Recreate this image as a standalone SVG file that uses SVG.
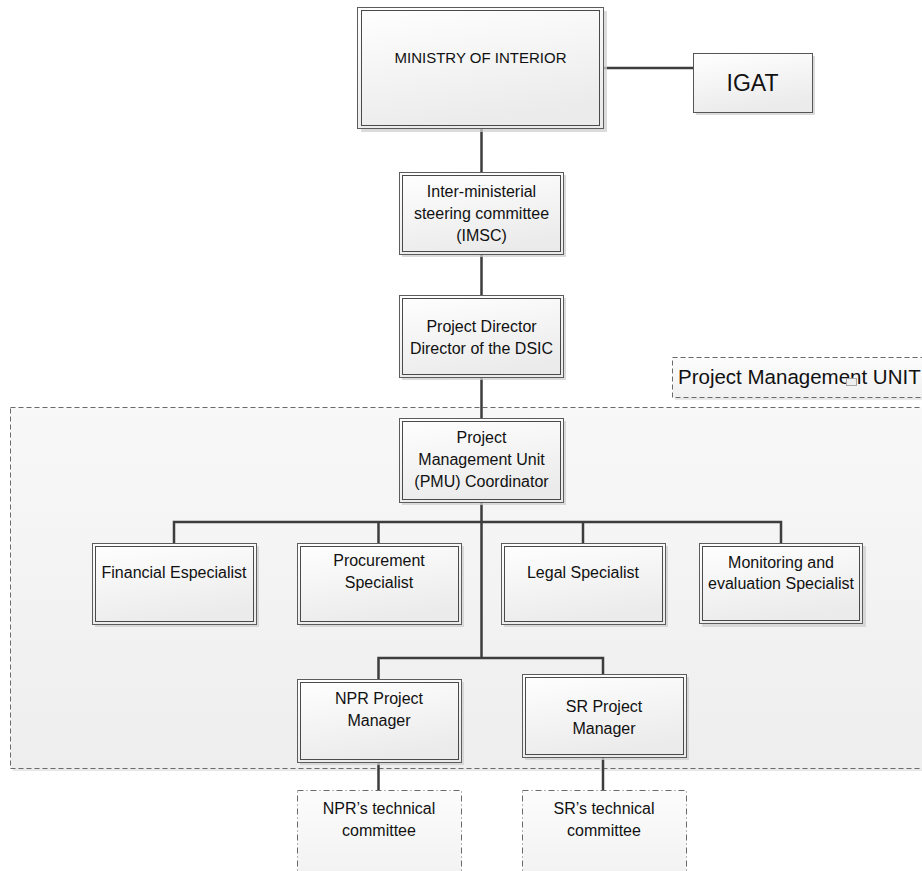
<svg xmlns="http://www.w3.org/2000/svg" width="922" height="871" viewBox="0 0 922 871">
  <defs>
    <linearGradient id="boxFill" x1="0" y1="0" x2="0.3" y2="1">
      <stop offset="0" stop-color="#ffffff"/>
      <stop offset="1" stop-color="#ebebeb"/>
    </linearGradient>
    <linearGradient id="areaFill" x1="0" y1="0" x2="0" y2="1">
      <stop offset="0" stop-color="#f8f8f8"/>
      <stop offset="1" stop-color="#eeeeee"/>
    </linearGradient>
    <linearGradient id="softFill" x1="0" y1="0" x2="0" y2="1">
      <stop offset="0" stop-color="#fcfcfc"/>
      <stop offset="1" stop-color="#f1f1f1"/>
    </linearGradient>
  </defs>
  <style>
    .shadow { fill: #cfcfcf; opacity: 0.75; }
    .outer { fill: url(#boxFill); stroke: #5c5c5c; stroke-width: 1; }
    .inner { fill: none; stroke: #4a4a4a; stroke-width: 1; }
    .single { fill: url(#boxFill); stroke: #555555; stroke-width: 1; }
    .area { fill: url(#areaFill); stroke: #6a6a6a; stroke-width: 1; stroke-dasharray: 5 3; }
    .tag { fill: url(#softFill); stroke: #6a6a6a; stroke-width: 1; stroke-dasharray: 5 3; }
    .committee { fill: url(#softFill); stroke: #6a6a6a; stroke-width: 1; stroke-dasharray: 6 3 1 3; }
    .link { fill: none; stroke: #3d3d3d; stroke-width: 2.5; }
    text { font-family: "Liberation Sans", Arial, sans-serif; font-size: 16px; fill: #111111; text-anchor: middle; }
  </style>

  <!-- project management unit area -->
  <g id="pmu-area">
    <rect x="13" y="410" width="930" height="361" fill="#d9d9d9" opacity="0.6"/>
    <rect class="area" x="10.5" y="407.5" width="930" height="361"/>
  </g>

  <!-- area label -->
  <g id="pmu-label">
    <rect x="675" y="360" width="260" height="40" fill="#d9d9d9" opacity="0.6"/>
    <rect class="tag" x="672.5" y="357.5" width="260" height="40"/>
    <text x="678" y="384" style="font-size:20.5px;text-anchor:start">Project Management UNIT</text>
    <rect x="846.5" y="378.5" width="10" height="7" fill="#efefef" stroke="#a8a8a8" stroke-width="1"/>
  </g>

  <!-- connectors -->
  <g id="connectors">
    <path class="link" d="M603 68 H693"/>
    <path class="link" d="M481.5 128 V172"/>
    <path class="link" d="M481.5 254 V295"/>
    <path class="link" d="M481.5 377 V418"/>
    <path class="link" d="M481.5 502 V658"/>
    <path class="link" d="M174 543 V522 H781 V543"/>
    <path class="link" d="M378.5 522 V543"/>
    <path class="link" d="M583 522 V543"/>
    <path class="link" d="M378.5 679 V658 H603 V674"/>
    <path class="link" d="M378.5 762 V790"/>
    <path class="link" d="M603 757 V790"/>
  </g>

  <g id="ministry">
    <rect class="shadow" x="361" y="11" width="246" height="121"/>
    <rect class="outer" x="357.5" y="7.5" width="246" height="121"/>
    <rect class="inner" x="361.5" y="10.5" width="238" height="115"/>
    <text x="480.5" y="63" style="font-size:15px">MINISTRY OF INTERIOR</text>
  </g>

  <g id="igat">
    <rect class="shadow" x="696" y="56" width="119" height="59"/>
    <rect class="single" x="693.5" y="53.5" width="119" height="59"/>
    <text x="752.5" y="91" style="font-size:23px">IGAT</text>
  </g>

  <g id="imsc">
    <rect class="shadow" x="402" y="175" width="164" height="82"/>
    <rect class="outer" x="399.5" y="172.5" width="164" height="82"/>
    <rect class="inner" x="402.5" y="175.5" width="158" height="76"/>
    <text x="481.5" y="197">Inter-ministerial</text>
    <text x="481.5" y="219">steering committee</text>
    <text x="481.5" y="241">(IMSC)</text>
  </g>

  <g id="project-director">
    <rect class="shadow" x="402" y="298" width="164" height="82"/>
    <rect class="outer" x="399.5" y="295.5" width="164" height="82"/>
    <rect class="inner" x="402.5" y="298.5" width="158" height="76"/>
    <text x="481.5" y="332">Project Director</text>
    <text x="481.5" y="354">Director of the DSIC</text>
  </g>

  <g id="pmu-coordinator">
    <rect class="shadow" x="402" y="421" width="164" height="84"/>
    <rect class="outer" x="399.5" y="418.5" width="164" height="84"/>
    <rect class="inner" x="402.5" y="421.5" width="158" height="78"/>
    <text x="481.5" y="443">Project</text>
    <text x="481.5" y="465">Management Unit</text>
    <text x="481.5" y="487">(PMU) Coordinator</text>
  </g>

  <g id="financial">
    <rect class="shadow" x="95" y="546" width="164" height="81"/>
    <rect class="outer" x="92.5" y="543.5" width="164" height="81"/>
    <rect class="inner" x="95.5" y="546.5" width="158" height="75"/>
    <text x="174" y="578">Financial Especialist</text>
  </g>

  <g id="procurement">
    <rect class="shadow" x="300" y="546" width="164" height="81"/>
    <rect class="outer" x="297.5" y="543.5" width="164" height="81"/>
    <rect class="inner" x="300.5" y="546.5" width="158" height="75"/>
    <text x="379" y="566">Procurement</text>
    <text x="379" y="588">Specialist</text>
  </g>

  <g id="legal">
    <rect class="shadow" x="504" y="546" width="164" height="81"/>
    <rect class="outer" x="501.5" y="543.5" width="164" height="81"/>
    <rect class="inner" x="504.5" y="546.5" width="158" height="75"/>
    <text x="583" y="578">Legal Specialist</text>
  </g>

  <g id="monitoring">
    <rect class="shadow" x="702" y="546" width="164" height="81"/>
    <rect class="outer" x="699.5" y="543.5" width="163" height="80"/>
    <rect class="inner" x="702.5" y="546.5" width="157" height="74"/>
    <text x="781" y="568">Monitoring and</text>
    <text x="781" y="589">evaluation Specialist</text>
  </g>

  <g id="npr-manager">
    <rect class="shadow" x="300" y="682" width="164" height="83"/>
    <rect class="outer" x="297.5" y="679.5" width="164" height="83"/>
    <rect class="inner" x="300.5" y="682.5" width="158" height="77"/>
    <text x="379" y="704">NPR Project</text>
    <text x="379" y="726">Manager</text>
  </g>

  <g id="sr-manager">
    <rect class="shadow" x="525" y="677" width="164" height="83"/>
    <rect class="outer" x="522.5" y="674.5" width="164" height="83"/>
    <rect class="inner" x="525.5" y="677.5" width="158" height="77"/>
    <text x="604" y="712">SR Project</text>
    <text x="604" y="734">Manager</text>
  </g>

  <g id="npr-committee">
    <rect class="committee" x="297.5" y="790.5" width="164" height="95"/>
    <text x="379" y="814">NPR’s technical</text>
    <text x="379" y="836">committee</text>
  </g>

  <g id="sr-committee">
    <rect class="committee" x="522.5" y="790.5" width="164" height="95"/>
    <text x="604" y="814">SR’s technical</text>
    <text x="604" y="836">committee</text>
  </g>
</svg>
